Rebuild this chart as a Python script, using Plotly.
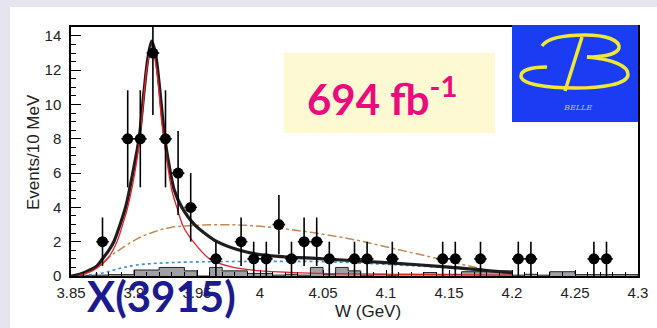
import plotly.graph_objects as go

# ---------------- data ----------------
W_pts = [3.875, 3.895, 3.905, 3.915, 3.925, 3.935, 3.945, 3.965, 3.985, 3.995,
         4.005, 4.015, 4.025, 4.035, 4.045, 4.055, 4.075, 4.085, 4.105, 4.145,
         4.155, 4.175, 4.205, 4.215, 4.265, 4.275]
N_pts = [2, 8, 8, 13, 8, 6, 4, 1, 2, 1,
         1, 3, 1, 2, 2, 1, 1, 1, 1, 1,
         1, 1, 1, 1, 1, 1]
err_pts = [1.41, 2.83, 2.83, 3.61, 2.83, 2.45, 2.0, 1.0, 1.41, 1.0,
           1.0, 1.73, 1.0, 1.41, 1.41, 1.0, 1.0, 1.0, 1.0, 1.0,
           1.0, 1.0, 1.0, 1.0, 1.0, 1.0]

hist_edges = [3.85, 3.86, 3.87, 3.88, 3.89, 3.90, 3.91, 3.92, 3.93, 3.94,
              3.95, 3.96, 3.97, 3.98, 3.99, 4.00, 4.01, 4.02, 4.03, 4.04,
              4.05, 4.06, 4.07, 4.08, 4.09, 4.10, 4.11, 4.12, 4.13, 4.14,
              4.15, 4.16, 4.17, 4.18, 4.19, 4.20, 4.21, 4.22, 4.23, 4.24,
              4.25, 4.26, 4.27, 4.28, 4.29, 4.30]
hist_vals = [0.03, 0.03, 0.06, 0.08, 0.08, 0.35, 0.35, 0.5, 0.5, 0.3,
             0.0, 0.5, 0.3, 0.3, 0.15, 0.15, 0.05, 0.1, 0.05, 0.5,
             0.1, 0.5, 0.3, 0.05, 0.1, 0.05, 0.1, 0.1, 0.2, 0.1,
             0.1, 0.25, 0.25, 0.3, 0.3, 0.05, 0.1, 0.05, 0.25, 0.25,
             0.08, 0.1, 0.1, 0.12, 0.08]

total_W = [3.850, 3.857, 3.865, 3.870, 3.875, 3.880, 3.884, 3.889, 3.894, 3.899,
           3.904, 3.908, 3.911, 3.914, 3.917, 3.920, 3.9245, 3.928, 3.932, 3.938,
           3.948, 3.966, 3.984, 4.005, 4.050, 4.100, 4.150, 4.200]
total_y = [0.0, 0.1, 0.35, 0.55, 1.0, 1.5, 2.0, 3.0, 4.2, 6.0,
           8.0, 10.8, 12.7, 13.7, 13.0, 11.2, 8.0, 6.4, 5.0, 4.0,
           3.0, 2.0, 1.5, 1.2, 1.0, 0.78, 0.52, 0.18]

signal_W = [3.855, 3.867, 3.873, 3.879, 3.8865, 3.891, 3.895, 3.9024, 3.906, 3.910,
            3.914, 3.918, 3.922, 3.926, 3.930, 3.934, 3.939, 3.947, 3.960, 3.979,
            4.000, 4.040, 4.080, 4.140, 4.200]
signal_y = [0.0, 0.3, 0.6, 1.0, 2.0, 3.0, 4.0, 6.8, 9.0, 12.0,
            13.4, 12.0, 9.0, 6.8, 5.0, 4.0, 2.9, 2.0, 1.0, 0.5,
            0.3, 0.17, 0.12, 0.08, 0.05]

alt_W = [3.850, 3.860, 3.868, 3.875, 3.882, 3.889, 3.902, 3.915, 3.929, 3.955,
         3.982, 4.000, 4.025, 4.053, 4.079, 4.106, 4.133, 4.159, 4.180, 4.195]
alt_y = [0.0, 0.15, 0.4, 0.8, 1.2, 1.55, 2.15, 2.55, 2.83, 2.97,
         2.98, 2.9, 2.7, 2.4, 2.05, 1.6, 1.15, 0.7, 0.35, 0.1]

bkg_W = [3.850, 3.862, 3.875, 3.889, 3.902, 3.929, 3.968, 4.008, 4.048, 4.100, 4.150, 4.200]
bkg_y = [0.0, 0.05, 0.17, 0.45, 0.64, 0.78, 0.84, 0.85, 0.84, 0.68, 0.47, 0.15]

x_tickvals = [3.85, 3.9, 3.95, 4.0, 4.05, 4.1, 4.15, 4.2, 4.25, 4.3]
x_ticktext = ["3.85", "3.9", "3.95", "4", "4.05", "4.1", "4.15", "4.2", "4.25", "4.3"]

# ---------------- geometry helpers (pixel -> paper) ----------------
FW, FH = 657, 328
L, R, T, B = 71, 638, 27, 276


def px(x):
    return (x - L) / (R - L)


def py(y):
    return (B - y) / (B - T)


def path(cmds):
    out = []
    for c in cmds:
        if isinstance(c, str):
            out.append(c)
        else:
            out.append(f"{px(c[0]):.5f},{py(c[1]):.5f}")
    return " ".join(out)


fig = go.Figure()

# histogram (step, filled)
hx = []
hy = []
for i, v in enumerate(hist_vals):
    hx += [hist_edges[i], hist_edges[i + 1]]
    hy += [v, v]
fig.add_trace(go.Scatter(x=[hist_edges[0]] + hx + [hist_edges[-1]],
                         y=[0] + hy + [0], mode="lines",
                         line=dict(color="#222222", width=1),
                         fill="tozeroy", fillcolor="#a0a0a4", hoverinfo="skip"))

fig.add_trace(go.Scatter(x=bkg_W, y=bkg_y, mode="lines", line_shape="spline",
                         line=dict(color="#3d8cc4", width=1.6, dash="dot")))
fig.add_trace(go.Scatter(x=alt_W, y=alt_y, mode="lines", line_shape="spline",
                         line=dict(color="#c08a50", width=1.5, dash="dashdot")))
fig.add_trace(go.Scatter(x=total_W, y=total_y, mode="lines", line_shape="spline",
                         line=dict(color="#1e1e1e", width=3.2, smoothing=0.8)))
fig.add_trace(go.Scatter(x=signal_W, y=signal_y, mode="lines", line_shape="spline",
                         line=dict(color="#e8202a", width=1.3, smoothing=0.8)))

fig.add_trace(go.Scatter(x=W_pts, y=N_pts, mode="markers",
                         marker=dict(color="black", size=11),
                         error_y=dict(type="data", array=err_pts, color="black",
                                      thickness=1.6, width=0),
                         error_x=dict(type="constant", value=0.005, color="black",
                                      thickness=1.6, width=0)))

shapes = []
# white panel behind everything
shapes.append(dict(type="rect", xref="paper", yref="paper", layer="below",
                   x0=px(10), x1=px(657), y0=py(328), y1=py(7),
                   fillcolor="white", line=dict(width=0)))
# luminosity box
shapes.append(dict(type="rect", xref="paper", yref="paper", layer="above",
                   x0=px(284), x1=px(495), y0=py(133), y1=py(53),
                   fillcolor="#fdf9d2", line=dict(width=0)))
# Belle logo box
shapes.append(dict(type="rect", xref="paper", yref="paper", layer="above",
                   x0=px(512), x1=px(638), y0=py(122), y1=py(25),
                   fillcolor="#1a3df4", line=dict(width=0)))
ycol = "#f0e836"
shapes.append(dict(type="path", xref="paper", yref="paper", layer="above",
                   path=path(["M", (542, 46), "C", (548, 37), (566, 35), (585, 35),
                              "C", (606, 35), (620, 40), (619, 48),
                              "C", (617, 55), (600, 57), (587, 57)]),
                   line=dict(color=ycol, width=3.5)))
shapes.append(dict(type="path", xref="paper", yref="paper", layer="above",
                   path=path(["M", (587, 57), "C", (612, 59), (629, 66), (628, 75),
                              "C", (627, 84), (603, 88), (575, 88),
                              "C", (545, 88), (521, 84), (521, 76),
                              "C", (521, 70), (532, 67), (547, 67)]),
                   line=dict(color=ycol, width=3.5)))
shapes.append(dict(type="path", xref="paper", yref="paper", layer="above",
                   path=path(["M", (582, 37), "L", (565, 91)]),
                   line=dict(color=ycol, width=3.5)))


def ann(x, y, text, font, **kw):
    d = dict(xref="paper", yref="paper", x=px(x), y=py(y), text=text,
             showarrow=False, xanchor="center", yanchor="middle", font=font)
    d.update(kw)
    return d


annotations = [
    ann(33, 152, "Events/10 MeV",
        dict(family="Liberation Sans, Arial", size=17, color="#222222"), textangle=-90),
    ann(368, 311, "W (GeV)",
        dict(family="Liberation Sans, Arial", size=17, color="#222222")),
    ann(382, 96, "<b>694 fb<sup>-1</sup></b>",
        dict(family="Lato", size=42, color="#ec0a7c")),
    ann(577, 107, "<i>BELLE</i>",
        dict(family="DejaVu Serif", size=8, color="#c8c048")),
    ann(161, 296, "<b>X(3915)</b>",
        dict(family="Lato", size=42, color="#1b1b8f")),
]

fig.update_layout(
    width=FW, height=FH,
    margin=dict(l=L, r=FW - R, t=T, b=FH - B, autoexpand=False),
    paper_bgcolor="#e5e4ef", plot_bgcolor="white",
    showlegend=False,
    shapes=shapes, annotations=annotations,
    xaxis=dict(range=[3.85, 4.30], tickvals=x_tickvals, ticktext=x_ticktext,
               ticks="inside", ticklen=6, tickcolor="black", tickwidth=1,
               minor=dict(dtick=0.01, tick0=3.85, ticks="inside", ticklen=4,
                          tickcolor="black"),
               showline=True, linecolor="black", linewidth=1.5, mirror=True,
               showgrid=False, zeroline=False, ticklabelstandoff=2, automargin=False,
               tickfont=dict(family="Liberation Sans, Arial", size=15, color="#222222")),
    yaxis=dict(range=[0, 14.52], dtick=2, tick0=0,
               ticks="inside", ticklen=10, tickcolor="black", tickwidth=1,
               minor=dict(dtick=0.5, ticks="inside", ticklen=5, tickcolor="black"),
               showline=True, linecolor="black", linewidth=1.5, mirror=True,
               showgrid=False, zeroline=False, ticklabelstandoff=5, automargin=False,
               tickfont=dict(family="Liberation Sans, Arial", size=15, color="#222222")),
)

fig.write_html("out.html", config={"displayModeBar": False},
               post_script="document.body.style.margin='0';document.body.style.overflow='hidden';")
